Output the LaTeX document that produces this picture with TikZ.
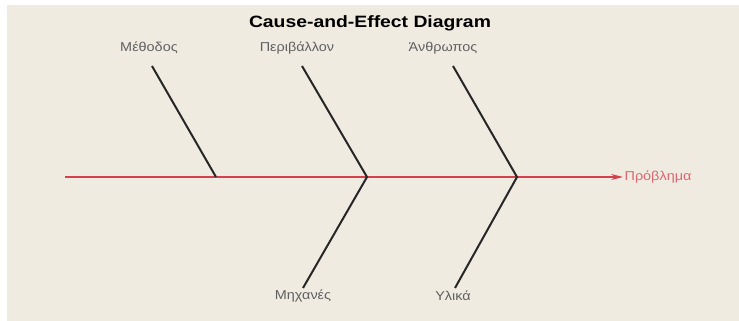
\documentclass[tikz,border=0pt]{standalone}
\usepackage{fontspec}
\setmainfont{Liberation Sans}
\usetikzlibrary{arrows.meta,positioning}
\definecolor{bgbeige}{HTML}{EFEBE1}
\definecolor{spinered}{HTML}{D6404C}
\definecolor{bonegray}{HTML}{262626}
\definecolor{labelgray}{HTML}{606060}

\begin{document}
\begin{tikzpicture}[x=0.03cm,y=-0.03cm,
  cause/.style={font=\fontsize{11}{13}\selectfont,text=labelgray,inner sep=1pt,xscale=1.12},
  bone/.style={bonegray,line width=1.7pt},
  spine/.style={spinered,line width=1.1pt}]
\useasboundingbox (0,0) rectangle (739,321);
\fill[white] (0,0) rectangle (739,321);
\fill[bgbeige] (7,5) rectangle (739,321);
\node[font=\bfseries\fontsize{14}{16}\selectfont,xscale=1.18] (title) at (370,23) {Cause-and-Effect Diagram};
% spine
\coordinate (tail) at (65,177);
\coordinate (head) at (623,177);
\coordinate (j1) at (216,177);
\coordinate (j2) at (367,177);
\coordinate (j3) at (517,177);
\draw[spine,-{Stealth[length=10pt,width=5pt]}] (tail) -- (head);
\node[cause,text=spinered!80,anchor=west] (effect) at (head) {Πρόβλημα};
% causes
\node[cause] (methodos) at (149,48) {Μέθοδος};
\node[cause] (perivallon) at (297,48) {Περιβάλλον};
\node[cause] (anthropos) at (443,48) {Άνθρωπος};
\node[cause] (michanes) at (303,296) {Μηχανές};
\node[cause] (ylika) at (453,296) {Υλικά};
\coordinate (b1) at (152,66);
\coordinate (b2) at (302,66);
\coordinate (b3) at (453,66);
\coordinate (b4) at (303,288);
\coordinate (b5) at (455,288);
\draw[bone] (b1) -- (j1);
\draw[bone] (b2) -- (j2) -- (b4);
\draw[bone] (b3) -- (j3) -- (b5);
\end{tikzpicture}
\end{document}
